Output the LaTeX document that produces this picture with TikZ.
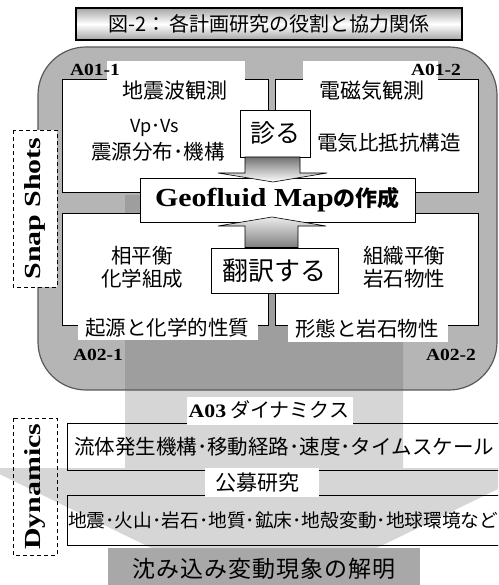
\documentclass[tikz,border=0pt]{standalone}
\usepackage{fontspec}
\setmainfont{Liberation Serif}
\newfontfamily\jp{Noto Sans CJK JP}
\newfontfamily\wser{Liberation Serif}[FakeStretch=1.15]
\newfontfamily\wwser{Liberation Serif}[FakeStretch=1.3]
\newcommand\fsz[1]{\fontsize{#1}{#1}\selectfont}
\begin{document}
\begin{tikzpicture}[x=1pt,y=-1pt,
  wbox/.style={draw=black, line width=0.8pt, fill=white, inner sep=0pt, outer sep=0pt},
  jt/.style={font=\jp\fsz{20.5}, inner sep=0pt},
  lab/.style={font=\wser\bfseries\fsz{17}, inner sep=0pt},
  dbox/.style={draw=black, line width=0.9pt, dash pattern=on 4pt off 3pt, inner sep=0pt},
  barrow/.style={draw=black, line width=0.6pt},
]
\useasboundingbox (0,0) rectangle (498,585);
\clip (0,0) rectangle (498,585);

% big background arrow
\fill[black!16] (125,195) -- (403,195) -- (403,468) -- (541,468) -- (264,603) -- (-13,468) -- (125,468) -- cycle;

% rounded frame
\draw[draw=black!65, line width=1.2pt, fill=black!63, fill opacity=0.46, rounded corners=48pt] (38,47) rectangle (497,390);

% title
\node[draw=black, line width=2pt, top color=black!35, bottom color=black!35, middle color=white,
  minimum width=386pt, minimum height=32pt, inner sep=0pt, font=\jp\fsz{20}] (title) at (269,24)
  {図-2：\hspace{3pt}各計画研究の役割と協力関係};

% four white boxes
\node[wbox, minimum width=206pt, minimum height=113pt] (tl) at (165,135.5) {};
\node[wbox, minimum width=203pt, minimum height=113pt] (tr) at (376.5,135.5) {};
\node[wbox, minimum width=206pt, minimum height=112pt] (bl) at (165,269) {};
\node[wbox, minimum width=203pt, minimum height=112pt] (br) at (376.5,269) {};

% tabs
\fill[white] (107,61) rectangle (245,100);
\fill[white] (303,61) rectangle (438,100);
\fill[white] (78,316) rectangle (258,340);
\fill[white] (288,316) rectangle (448,342);

% texts in boxes
\node[jt, font=\jp\fsz{21}] (seis) at (175,91) {地震波観測};
\node[jt, font=\jp\fsz{21}] (emag) at (372,91) {電磁気観測};
\node[jt, font=\jp\fsz{18}] (vpvs) at (155,128) {Vp･Vs};
\node[jt] (hypo) at (158,152) {震源分布･機構};
\node[jt] (resi) at (389,143) {電気比抵抗構造};
\node[jt] (phase) at (142,256) {相平衡};
\node[jt] (chem) at (142,279) {化学組成};
\node[jt] (tex) at (404,256) {組織平衡};
\node[jt] (rock) at (404,279) {岩石物性};
\node[jt] (orig) at (167,328) {起源と化学的性質};
\node[jt] (form) at (367,329) {形態と岩石物性};

% labels
\node[lab] (a011) at (95,70) {A01-1};
\node[lab] (a012) at (436,70) {A01-2};
\node[lab] (a021) at (98,355) {A02-1};
\node[lab] (a022) at (451,355) {A02-2};

% central boxes
\node[wbox, minimum width=275pt, minimum height=44pt] (geo) at (277.5,200)
  {\wser\bfseries\fsz{26}Geofluid Map\jp\bfseries\fsz{22}の作成};
\node[wbox, minimum width=70pt, minimum height=47pt, font=\jp\fsz{25}] (miru) at (275,133.5) {診る};
\node[wbox, minimum width=127pt, minimum height=45pt, font=\jp\fsz{26}] (hon) at (274.5,270.5) {翻訳する};

% block arrows
\path[barrow, top color=black!55, bottom color=white]
  (245,157) -- (245,173) -- (218,173) -- (273,182) -- (327,173) -- (300,173) -- (300,157) -- cycle;
\path[barrow, top color=black!8, bottom color=black!50]
  (245,247.5) -- (245,226) -- (218,226) -- (272,217) -- (326,226) -- (298,226) -- (298,247.5) -- cycle;

% snap shots
\node[dbox, fill=white, rotate=90, minimum width=157pt, minimum height=44pt,
  font=\wwser\bfseries\fsz{23}] (snap) at (35,208.5) {Snap Shots};

% dynamics section
\draw[line width=0.8pt] (67,423) rectangle (510,470);
\draw[line width=0.8pt] (67,495) rectangle (510,545);
\fill[white] (187,397) rectangle (353,425);
\fill[white] (205,468) rectangle (319,497);
\node[inner sep=0pt] (a03) at (269,410) {\wser\bfseries\fsz{19}A03\hspace{4pt}\jp\mdseries\fsz{20}ダイナミクス};
\node[jt, anchor=west] (dyn1) at (74,447) {流体発生機構･移動経路･速度･タイムスケール};
\node[jt, font=\jp\fsz{21}] (koubo) at (257,483) {公募研究};
\node[jt, font=\jp\fsz{18.7}, anchor=west] (dyn2) at (68,520) {地震･火山･岩石･地質･鉱床･地殻変動･地球環境など};
\node[dbox, rotate=90, minimum width=137pt, minimum height=44pt,
  font=\wwser\bfseries\fsz{23}] (dyn) at (35,486.5) {Dynamics};

% bottom result box
\node[fill=black!34, minimum width=312pt, minimum height=42pt, inner sep=0pt,
  font=\jp\fsz{23}] (res) at (264,569) {\addfontfeature{LetterSpace=4}沈み込み変動現象の解明};
\end{tikzpicture}
\end{document}
